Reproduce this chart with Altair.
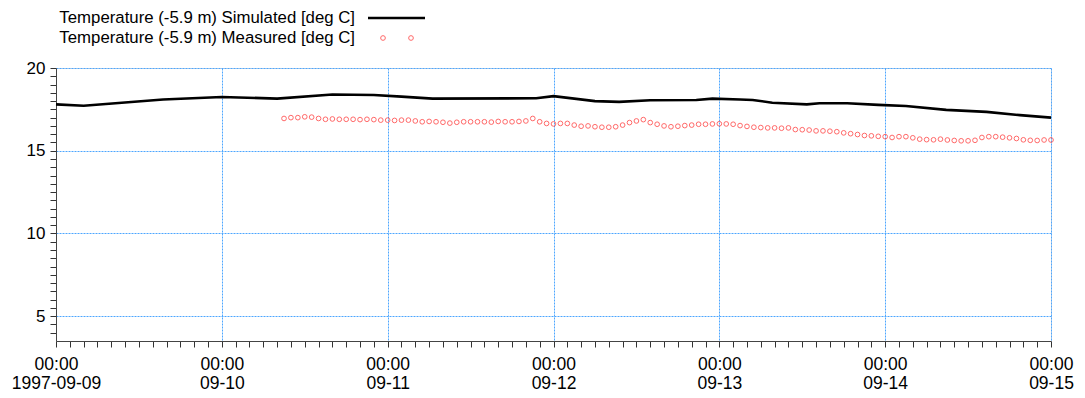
import altair as alt
import pandas as pd

# ---- data ----
sim_times = [
    "1997-09-09T00:00", "1997-09-09T04:00", "1997-09-09T15:30", "1997-09-10T00:00",
    "1997-09-10T08:00", "1997-09-10T16:00", "1997-09-10T22:00", "1997-09-11T02:00",
    "1997-09-11T06:30", "1997-09-11T21:30", "1997-09-12T00:00", "1997-09-12T06:00",
    "1997-09-12T09:30", "1997-09-12T14:00", "1997-09-12T20:40", "1997-09-12T23:00",
    "1997-09-13T03:00", "1997-09-13T04:50", "1997-09-13T07:40", "1997-09-13T12:40",
    "1997-09-13T14:30", "1997-09-13T18:30", "1997-09-13T23:00", "1997-09-14T03:00",
    "1997-09-14T08:50", "1997-09-14T14:40", "1997-09-14T19:30", "1997-09-15T00:00",
]
sim_values = [
    17.80, 17.72, 18.10, 18.25, 18.15, 18.40, 18.37, 18.27,
    18.15, 18.17, 18.30, 18.00, 17.95, 18.05, 18.07, 18.15,
    18.10, 18.07, 17.90, 17.80, 17.87, 17.87, 17.77, 17.70,
    17.47, 17.35, 17.15, 17.00,
]

meas_start = "1997-09-10T09:00"  # hourly series
meas_values = [
    16.95, 17.00, 17.00, 17.05, 17.03, 16.95, 16.90, 16.92, 16.90, 16.90,
    16.90, 16.88, 16.90, 16.88, 16.85, 16.85, 16.83, 16.85, 16.85, 16.80,
    16.75, 16.77, 16.75, 16.72, 16.67, 16.72, 16.75, 16.75, 16.75, 16.75,
    16.73, 16.77, 16.75, 16.75, 16.77, 16.80, 16.95, 16.75, 16.65, 16.62,
    16.65, 16.65, 16.55, 16.48, 16.50, 16.45, 16.42, 16.42, 16.45, 16.55,
    16.70, 16.80, 16.88, 16.70, 16.60, 16.50, 16.45, 16.48, 16.52, 16.55,
    16.60, 16.60, 16.62, 16.63, 16.62, 16.60, 16.52, 16.47, 16.42, 16.40,
    16.38, 16.38, 16.36, 16.38, 16.28, 16.27, 16.25, 16.20, 16.20, 16.18,
    16.15, 16.08, 16.03, 15.98, 15.92, 15.90, 15.87, 15.85, 15.80, 15.85,
    15.85, 15.78, 15.70, 15.67, 15.66, 15.70, 15.65, 15.62, 15.60, 15.60,
    15.63, 15.80, 15.85, 15.85, 15.82, 15.78, 15.74, 15.66, 15.63, 15.62,
    15.65, 15.65,
]

sim_label = "Temperature (-5.9 m) Simulated [deg C]"
meas_label = "Temperature (-5.9 m) Measured [deg C]"

x_start = "1997-09-09T00:00"
x_end = "1997-09-15T00:00"
y_domain = [3.5, 20]

# ---- tables ----
sim_df = pd.DataFrame({"time": sim_times, "value": sim_values})
meas_times = pd.date_range(meas_start, periods=len(meas_values), freq="h")
meas_df = pd.DataFrame({"time": meas_times.strftime("%Y-%m-%dT%H:%M"), "value": meas_values})

tick_dates = pd.date_range(x_start, x_end, freq="2h")
x_tick_values = [
    alt.DateTime(year=d.year, month=d.month, date=d.day, hours=d.hour) for d in tick_dates
]
y_tick_values = [v / 2 for v in range(8, 41)]

FONT = "Liberation Sans"
GRID = "#4da6ff"

x_axis = alt.Axis(
    values=x_tick_values,
    tickCount=500,
    title=None,
    labelExpr=(
        "hours(datum.value) == 0 ? [timeFormat(datum.value, '%H:%M'), "
        "(date(datum.value) == 9 ? timeFormat(datum.value, '%Y-%m-%d') : timeFormat(datum.value, '%m-%d'))] : ''"
    ),
    labelOverlap=False,
    labelFlush=False,
    labelFont=FONT,
    labelFontSize=17.5,
    labelColor="#000000",
    labelLineHeight=19,
    labelPadding=8,
    tickSize=6,
    tickColor="#333333",
    domainColor="#444444",
    grid=True,
    gridColor=GRID,
    gridDash=[2, 1],
    gridOpacity=alt.condition("hours(datum.value) == 0", alt.value(1), alt.value(0)),
)

y_axis = alt.Axis(
    values=y_tick_values,
    tickCount=500,
    title=None,
    labelExpr="datum.value % 5 == 0 ? datum.value : ''",
    labelOverlap=False,
    labelFont=FONT,
    labelFontSize=17,
    labelColor="#000000",
    labelPadding=5,
    tickSize=6,
    tickColor="#333333",
    domainColor="#444444",
    grid=True,
    gridColor=GRID,
    gridDash=[2, 1],
    gridOpacity=alt.condition("datum.value % 5 == 0", alt.value(1), alt.value(0)),
)

x_enc = alt.X(
    "time:T",
    scale=alt.Scale(domain=[alt.DateTime(year=1997, month=9, date=9),
                            alt.DateTime(year=1997, month=9, date=15)], nice=False),
    axis=x_axis,
)
y_enc = alt.Y("value:Q", scale=alt.Scale(domain=y_domain, nice=False, zero=False), axis=y_axis)

sim_line = alt.Chart(sim_df).mark_line(color="#000000", strokeWidth=2.6).encode(x=x_enc, y=y_enc)
meas_pts = alt.Chart(meas_df).mark_point(
    shape="circle", filled=False, color="#ff2a2a", size=22, strokeWidth=1
).encode(x="time:T", y="value:Q")

# ---- legend (top-left, label then symbol) ----
leg_sim = pd.DataFrame({"label": [sim_label]})
leg_meas = pd.DataFrame({"label": [meas_label]})
leg_text_sim = alt.Chart(leg_sim).mark_text(
    align="right", baseline="middle", font=FONT, fontSize=16.8, color="#000000"
).encode(text="label:N", x=alt.value(299), y=alt.value(-50))
leg_text_meas = alt.Chart(leg_meas).mark_text(
    align="right", baseline="middle", font=FONT, fontSize=16.8, color="#000000"
).encode(text="label:N", x=alt.value(299), y=alt.value(-30))
leg_line = alt.Chart(leg_sim).mark_rule(color="#000000", strokeWidth=2.6).encode(
    x=alt.value(312), x2=alt.value(369), y=alt.value(-50)
)
leg_pt1 = alt.Chart(leg_meas).mark_point(
    shape="circle", filled=False, color="#ff2a2a", size=22, strokeWidth=1
).encode(x=alt.value(327), y=alt.value(-30))
leg_pt2 = alt.Chart(leg_meas).mark_point(
    shape="circle", filled=False, color="#ff2a2a", size=22, strokeWidth=1
).encode(x=alt.value(355), y=alt.value(-30))

chart = alt.layer(
    sim_line, meas_pts, leg_text_sim, leg_text_meas, leg_line, leg_pt1, leg_pt2
).properties(
    width=995,
    height=273,
    autosize=alt.AutoSizeParams(type="none"),
    padding={"left": 48, "top": 60, "right": 26, "bottom": 50},
).configure_view(
    stroke="#555555", strokeWidth=1
).configure(background="#ffffff")

chart.save("out.html", embed_options={"renderer": "svg", "actions": False})
